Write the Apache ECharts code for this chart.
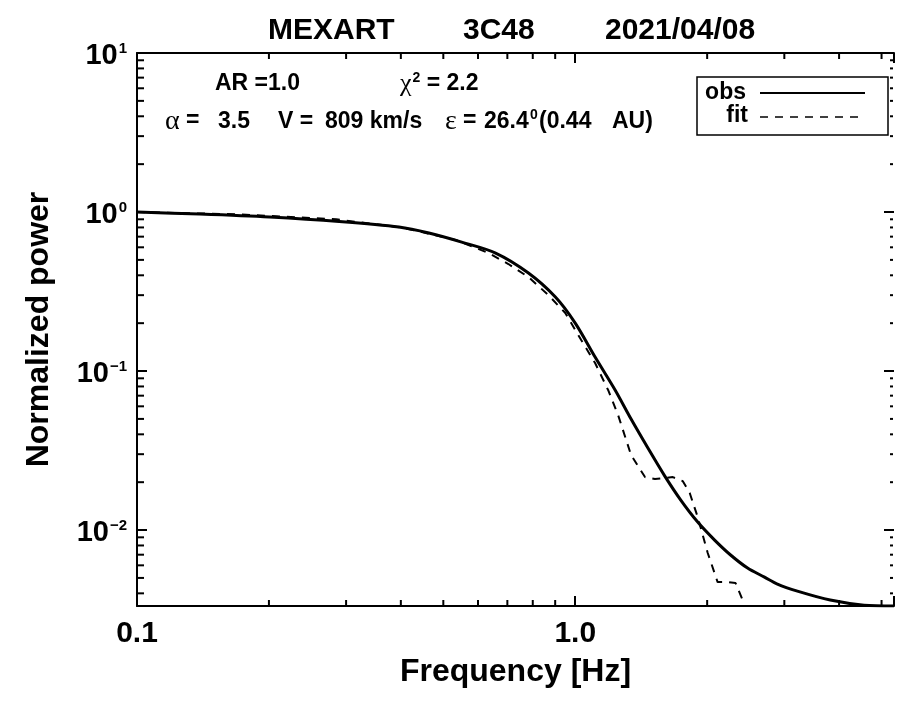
<!DOCTYPE html>
<html>
<head>
<meta charset="utf-8">
<script src="https://cdn.jsdelivr.net/npm/echarts@6/dist/echarts.min.js"></script>
<style>html,body{margin:0;padding:0;background:#fff;}#c{width:897px;height:707px;}</style>
</head>
<body>
<div id="c"></div>
<script>
// ---- data ----
var obsFreq  = [0.1, 0.139, 0.2006, 0.2893, 0.396, 0.4635, 0.5507, 0.658, 0.782, 0.901, 1.0, 1.110, 1.233, 1.341, 1.465, 1.601, 1.741, 1.903, 2.080, 2.262, 2.473, 2.703, 2.893, 3.213, 3.818, 4.561, 5.338];
var obsPower = [1.0, 0.971, 0.930, 0.872, 0.805, 0.738, 0.647, 0.552, 0.4135, 0.292, 0.2003, 0.1225, 0.0760, 0.0499, 0.0328, 0.02185, 0.01544, 0.01123, 0.00865, 0.00697, 0.00577, 0.00506, 0.00457, 0.00413, 0.00363, 0.00337, 0.00333];
var fitFreq  = [0.1, 0.1688, 0.2848, 0.4047, 0.5337, 0.6342, 0.7039, 0.782, 0.8683, 0.949, 1.0319, 1.110, 1.1885, 1.2525, 1.341, 1.4427, 1.520, 1.670, 1.760, 1.825, 1.903, 2.006, 2.113, 2.227, 2.322, 2.434];
var fitPower = [1.0, 0.967, 0.900, 0.797, 0.667, 0.552, 0.471, 0.390, 0.3006, 0.2317, 0.1567, 0.1123, 0.0760, 0.0529, 0.0296, 0.02154, 0.02093, 0.02154, 0.0203, 0.0171, 0.01207, 0.00717, 0.00471, 0.00471, 0.00464, 0.0034];
var xMin = 0.1, xMax = 5.338;
var yMin = 0.00333, yMax = 10;
var xTickLabels = {'0.1': '0.1', '1': '1.0'};
var xMinorTicks = [0.2, 0.3, 0.4, 0.5, 0.6, 0.7, 0.8, 0.9, 2, 3, 4, 5];
var yMinorTicks = [0.004, 0.005, 0.006, 0.007, 0.008, 0.009, 0.02, 0.03, 0.04, 0.05, 0.06, 0.07, 0.08, 0.09, 0.2, 0.3, 0.4, 0.5, 0.6, 0.7, 0.8, 0.9, 2, 3, 4, 5, 6, 7, 8, 9];
var titleParts = ['MEXART', '3C48', '2021/04/08'];
var seriesNames = ['obs', 'fit'];

function zip(a, b) { return a.map(function (v, i) { return [v, b[i]]; }); }
function isPow10(v) { var e = Math.log10(v); return Math.abs(e - Math.round(e)) < 1e-6; }

var FONT = '"Liberation Sans", Arial, Helvetica, sans-serif';
var SERIF = '"Liberation Serif", "DejaVu Serif", serif';
var axisLineStyle = { color: '#000', width: 2 };

var chart = echarts.init(document.getElementById('c'), null, { renderer: 'canvas' });

var option = {
  backgroundColor: '#fff',
  animation: false,
  grid: { left: 137, top: 53, right: 0, bottom: 101, containLabel: false },
  xAxis: [{
    type: 'log', logBase: 10, min: xMin, max: xMax, position: 'bottom',
    name: 'Frequency [Hz]', nameLocation: 'middle', nameGap: 50,
    nameTextStyle: { fontFamily: FONT, fontWeight: 'bold', fontSize: 32, color: '#000' },
    axisLine: { show: true, lineStyle: axisLineStyle },
    axisTick: { show: true, inside: true, length: 10, lineStyle: { color: '#000', width: 2 } },
    axisLabel: {
      show: true, margin: 13, fontFamily: FONT, fontWeight: 'bold', fontSize: 30, color: '#000',
      formatter: function (v) { if (!isPow10(v)) return ''; var k = String(Math.round(Math.log10(v)) === 0 ? 1 : +v.toPrecision(3)); return xTickLabels[k] || ''; }
    },
    splitLine: { show: false }
  }, {
    type: 'log', logBase: 10, min: xMin, max: xMax, position: 'top',
    axisLine: { show: true, lineStyle: axisLineStyle },
    axisTick: { show: true, inside: true, length: 10, lineStyle: { color: '#000', width: 2 } },
    axisLabel: { show: false },
    splitLine: { show: false }
  }],
  yAxis: [{
    type: 'log', logBase: 10, min: yMin, max: yMax, position: 'left',
    name: 'Normalized power', nameLocation: 'middle', nameGap: 82, nameRotate: 90,
    nameTextStyle: { fontFamily: FONT, fontWeight: 'bold', fontSize: 32, color: '#000' },
    axisLine: { show: true, lineStyle: axisLineStyle },
    axisTick: { show: true, inside: true, length: 10, lineStyle: { color: '#000', width: 2 } },
    axisLabel: {
      show: true, margin: 10, padding: [6, 0, 0, 0],
      formatter: function (v) {
        if (!isPow10(v)) return '';
        var e = Math.round(Math.log10(v));
        return '{b|10}{s|' + (e < 0 ? '\u2212' + (-e) : e) + '}';
      },
      rich: {
        b: { fontFamily: FONT, fontWeight: 'bold', fontSize: 29, color: '#000' },
        s: { fontFamily: FONT, fontWeight: 'bold', fontSize: 15, color: '#000', verticalAlign: 'top', padding: [0, 0, 0, 1] }
      }
    },
    splitLine: { show: false }
  }, {
    type: 'log', logBase: 10, min: yMin, max: yMax, position: 'right',
    axisLine: { show: false },
    axisTick: { show: true, inside: true, length: 10, lineStyle: { color: '#000', width: 2 } },
    axisLabel: { show: false },
    splitLine: { show: false }
  }],
  series: [{
    name: seriesNames[0], type: 'line', xAxisIndex: 0, yAxisIndex: 0,
    data: zip(obsFreq, obsPower), showSymbol: false, symbol: 'none', smooth: 0.3,
    lineStyle: { color: '#000', width: 3 }, clip: true, z: 5
  }, {
    name: seriesNames[1], type: 'line', xAxisIndex: 0, yAxisIndex: 0,
    data: zip(fitFreq, fitPower), showSymbol: false, symbol: 'none',
    lineStyle: { color: '#000', width: 2, type: [8, 7] }, clip: true, z: 4
  }, {
    type: 'custom', xAxisIndex: 0, yAxisIndex: 0, silent: true, z: 6,
    data: xMinorTicks.map(function (v) { return [v, 1]; }),
    renderItem: function (params, api) {
      var cs = params.coordSys;
      var x = api.coord([api.value(0), 1])[0];
      var st = { stroke: '#000', lineWidth: 2 };
      return { type: 'group', children: [
        { type: 'line', shape: { x1: x, y1: cs.y + cs.height, x2: x, y2: cs.y + cs.height - 6 }, style: st },
        { type: 'line', shape: { x1: x, y1: cs.y, x2: x, y2: cs.y + 6 }, style: st }
      ]};
    }
  }, {
    type: 'custom', xAxisIndex: 0, yAxisIndex: 0, silent: true, z: 6,
    data: yMinorTicks.map(function (v) { return [1, v]; }),
    renderItem: function (params, api) {
      var cs = params.coordSys;
      var y = api.coord([1, api.value(1)])[1];
      var st = { stroke: '#000', lineWidth: 2 };
      return { type: 'group', children: [
        { type: 'line', shape: { x1: cs.x, y1: y, x2: cs.x + 7, y2: y }, style: st },
        { type: 'line', shape: { x1: cs.x + cs.width - 4, y1: y, x2: cs.x + cs.width - 1, y2: y }, style: st }
      ]};
    }
  }],
  graphic: [
    { type: 'text', x: 268, y: 31, style: { text: titleParts[0], font: 'bold 30px ' + FONT, fill: '#000', textAlign: 'left', textVerticalAlign: 'middle' } },
    { type: 'text', x: 463, y: 31, style: { text: titleParts[1], font: 'bold 30px ' + FONT, fill: '#000', textAlign: 'left', textVerticalAlign: 'middle' } },
    { type: 'text', x: 605, y: 31, style: { text: titleParts[2], font: 'bold 30px ' + FONT, fill: '#000', textAlign: 'left', textVerticalAlign: 'middle' } },

    { type: 'text', x: 215, y: 84, style: { text: 'AR =1.0', font: 'bold 23px ' + FONT, fill: '#000', textAlign: 'left', textVerticalAlign: 'middle' } },
    { type: 'text', x: 400, y: 84, style: { text: '{g|\u03C7}{s|2}{b| = 2.2}', fill: '#000', textAlign: 'left', textVerticalAlign: 'middle',
      rich: { g: { font: '26px ' + SERIF, fill: '#000' }, s: { font: 'bold 14px ' + FONT, fill: '#000', verticalAlign: 'top', padding: [0, 0, 0, 1] }, b: { font: 'bold 23px ' + FONT, fill: '#000' } } } },

    { type: 'text', x: 165, y: 122, style: { text: '\u03B1', font: '28px ' + SERIF, fill: '#000', textAlign: 'left', textVerticalAlign: 'middle' } },
    { type: 'text', x: 186, y: 121, style: { text: '=', font: 'bold 23px ' + FONT, fill: '#000', textAlign: 'left', textVerticalAlign: 'middle' } },
    { type: 'text', x: 218, y: 122, style: { text: '3.5', font: 'bold 23px ' + FONT, fill: '#000', textAlign: 'left', textVerticalAlign: 'middle' } },
    { type: 'text', x: 278, y: 122, style: { text: 'V =', font: 'bold 23px ' + FONT, fill: '#000', textAlign: 'left', textVerticalAlign: 'middle' } },
    { type: 'text', x: 325, y: 122, style: { text: '809 km/s', font: 'bold 23px ' + FONT, fill: '#000', textAlign: 'left', textVerticalAlign: 'middle' } },
    { type: 'text', x: 445, y: 122, style: { text: '\u03B5', font: '28px ' + SERIF, fill: '#000', textAlign: 'left', textVerticalAlign: 'middle' } },
    { type: 'text', x: 463, y: 121, style: { text: '=', font: 'bold 23px ' + FONT, fill: '#000', textAlign: 'left', textVerticalAlign: 'middle' } },
    { type: 'text', x: 484, y: 122, style: { text: '26.4', font: 'bold 23px ' + FONT, fill: '#000', textAlign: 'left', textVerticalAlign: 'middle' } },
    { type: 'text', x: 530, y: 115, style: { text: '0', font: 'bold 14px ' + FONT, fill: '#000', textAlign: 'left', textVerticalAlign: 'middle' } },
    { type: 'text', x: 539, y: 122, style: { text: '(0.44', font: 'bold 23px ' + FONT, fill: '#000', textAlign: 'left', textVerticalAlign: 'middle' } },
    { type: 'text', x: 612, y: 122, style: { text: 'AU)', font: 'bold 23px ' + FONT, fill: '#000', textAlign: 'left', textVerticalAlign: 'middle' } },

    { type: 'rect', shape: { x: 697, y: 77, width: 191, height: 58 }, style: { fill: '#fff', stroke: '#000', lineWidth: 1.5 }, z: 10 },
    { type: 'text', x: 746, y: 93, z: 11, style: { text: seriesNames[0], font: 'bold 23px ' + FONT, fill: '#000', textAlign: 'right', textVerticalAlign: 'middle' } },
    { type: 'text', x: 748, y: 116, z: 11, style: { text: seriesNames[1], font: 'bold 23px ' + FONT, fill: '#000', textAlign: 'right', textVerticalAlign: 'middle' } },
    { type: 'line', z: 11, shape: { x1: 760, y1: 93, x2: 865, y2: 93 }, style: { stroke: '#000', lineWidth: 2 } },
    { type: 'line', z: 11, shape: { x1: 760, y1: 117, x2: 862, y2: 117 }, style: { stroke: '#000', lineWidth: 1.5, lineDash: [8, 7] } }
  ]
};
chart.setOption(option);
</script>
</body>
</html>
